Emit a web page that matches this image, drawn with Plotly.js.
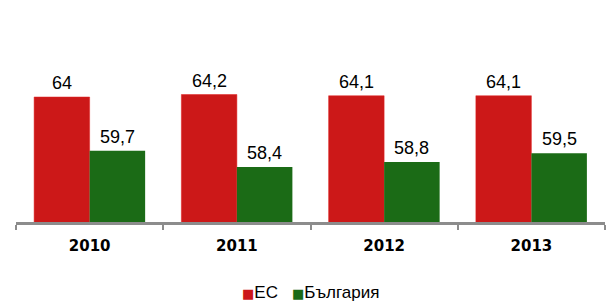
<!DOCTYPE html>
<html>
<head>
<meta charset="utf-8">
<script src="https://cdn.plot.ly/plotly-3.0.1.min.js"></script>
<style>html,body{margin:0;padding:0;background:#fff;}#chart{width:610px;height:304px;}</style>
</head>
<body>
<div id="chart"></div>
<script>
var years = ['2010', '2011', '2012', '2013'];
var euValues = [64, 64.2, 64.1, 64.1];
var bgValues = [59.7, 58.4, 58.8, 59.5];
var seriesNames = ['ЕС', 'България'];
var seriesColors = ['#cc1818', '#1b6b16'];

var fmt = function (v) { return String(v).replace('.', ','); };
var labelFont = {family: 'Liberation Sans, Arial', size: 18, color: '#000'};
var legendFont = {family: 'Liberation Sans, Arial', size: 17, color: '#000'};

var traces = [
  {type: 'bar', name: seriesNames[0], x: years, y: euValues,
   marker: {color: seriesColors[0], line: {color: '#e02020', width: 0.5}}, hoverinfo: 'none'},
  {type: 'bar', name: seriesNames[1], x: years, y: bgValues,
   marker: {color: seriesColors[1]}, hoverinfo: 'none'}
];

var annotations = [];
years.forEach(function (yr, i) {
  annotations.push({x: i, y: euValues[i], xref: 'x', yref: 'y', text: fmt(euValues[i]),
    showarrow: false, yanchor: 'bottom', xshift: -27.7, yshift: 2, font: labelFont});
  annotations.push({x: i, y: bgValues[i], xref: 'x', yref: 'y', text: fmt(bgValues[i]),
    showarrow: false, yanchor: 'bottom', xshift: 27.7, yshift: 2, font: labelFont});
});

// legend built from the series names and colours
var legendX = [0.3805, 0.4660];
seriesNames.forEach(function (nm, k) {
  annotations.push({xref: 'paper', yref: 'paper', x: legendX[k], y: -0.473,
    xanchor: 'left', yanchor: 'middle', showarrow: false, font: legendFont,
    text: '<span style="color:' + seriesColors[k] + ';font-family:DejaVu Sans;font-size:13px">■</span>' + nm});
});

var layout = {
  width: 610, height: 304,
  margin: {l: 16, r: 5, t: 72, b: 82, autoexpand: false},
  paper_bgcolor: '#fff', plot_bgcolor: '#fff',
  barmode: 'group', bargap: 0.246, bargroupgap: 0,
  showlegend: false,
  xaxis: {type: 'category', range: [-0.5, 3.5], showline: true, linecolor: '#8c8c8c', linewidth: 2.5,
    ticks: 'outside', tickson: 'boundaries', ticklen: 5, tickwidth: 2, tickcolor: '#8c8c8c',
    tickfont: {family: 'DejaVu Sans', size: 15, color: '#000', weight: 'bold'},
    ticklabelstandoff: 8, showgrid: false, zeroline: false, fixedrange: true, automargin: false},
  yaxis: {range: [54, 66], visible: false, showgrid: false, zeroline: false, fixedrange: true},
  annotations: annotations
};

Plotly.newPlot('chart', traces, layout, {displayModeBar: false, staticPlot: true});
</script>
</body>
</html>
